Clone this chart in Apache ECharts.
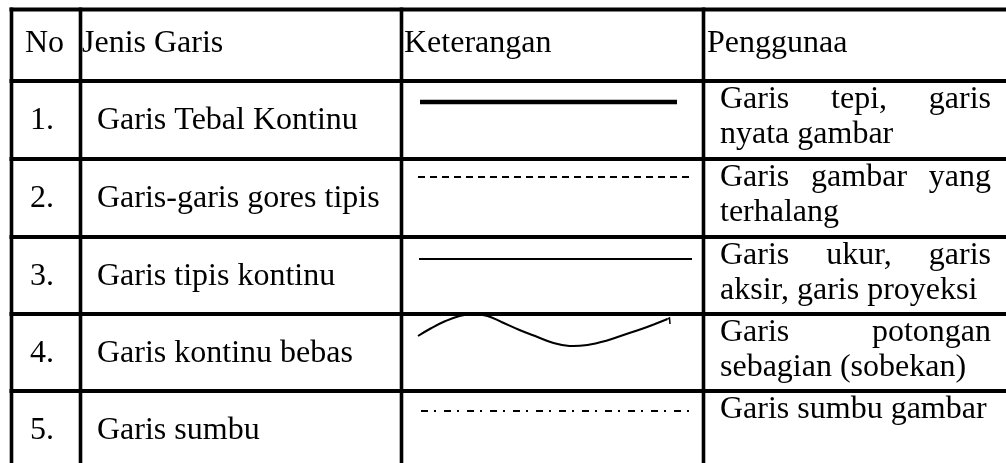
<!DOCTYPE html>
<html><head><meta charset="utf-8">
<script src="https://cdn.jsdelivr.net/npm/echarts@6/dist/echarts.min.js"></script>
<style>html,body{margin:0;padding:0;background:#fff}#c{width:1006px;height:463px}</style>
</head><body><div id="c"></div>
<script>
// ---- content ----
const headers = ['No', 'Jenis Garis', 'Keterangan', 'Penggunaa'];
const numbers = ['1.', '2.', '3.', '4.', '5.'];
const lineNames = ['Garis Tebal Kontinu', 'Garis-garis gores tipis', 'Garis tipis kontinu', 'Garis kontinu bebas', 'Garis sumbu'];
const lineKinds = ['thick', 'dashed', 'thin', 'free', 'dashdot'];
const usageLines = [
  ['Garis tepi, garis', 'nyata gambar'],
  ['Garis gambar yang', 'terhalang'],
  ['Garis ukur, garis', 'aksir, garis proyeksi'],
  ['Garis potongan', 'sebagian (sobekan)'],
  ['Garis sumbu gambar']
];
// free-hand sample: [offset from cell left, offset from row top]
const freeLineShape = [[16.5,22],[30,14],[44,7],[58,2],[72,0],[86,2],[100,8],[118,16],[136,23],[152,29],[168,32],[186,31],[204,27],[222,21],[240,15],[256,9],[266,5]];
const freeLineHook = [[266,5],[268,4],[268.5,10]];

// ---- layout (table units = px of the page) ----
const W = 1006, H = 463;
const colEdges = [11.5, 80.5, 401.5, 703.5, 1012];
const rowEdges = [9.5, 81, 159, 237, 314, 391, 470];
const FONT_SIZE = 32;
const FONT_FAMILY = '"Liberation Serif", "Times New Roman", serif';
const FONT = FONT_SIZE + 'px ' + FONT_FAMILY;
const MID = 11; // baseline -> middle offset

const mctx = document.createElement('canvas').getContext('2d');
mctx.font = FONT;
const tw = s => mctx.measureText(s).width;

const chart = echarts.init(document.getElementById('c'), null, {renderer: 'canvas'});

function txt(api, s, x, baseline, align) {
  const p = api.coord([x, baseline - MID]);
  return {type: 'text', style: {text: s, x: p[0], y: p[1], font: FONT, fill: '#000',
    textAlign: align || 'left', textVerticalAlign: 'middle', align: align || 'left', verticalAlign: 'middle'}};
}
function seg(api, x1, y1, x2, y2, lw, dash) {
  const a = api.coord([x1, y1]), b = api.coord([x2, y2]);
  return {type: 'line', shape: {x1: a[0], y1: a[1], x2: b[0], y2: b[1]},
    style: {stroke: '#000', lineWidth: lw, lineDash: dash || null, lineCap: 'butt'}};
}

function renderRow(params, api) {
  const r = api.value(0);
  const children = [];
  if (r === 0) {
    const bl = rowEdges[0] + 45;
    children.push(txt(api, headers[0], 25, bl));
    children.push(txt(api, headers[1], 82, bl));
    children.push(txt(api, headers[2], 404, bl));
    children.push(txt(api, headers[3], 707, bl));
    return {type: 'group', children};
  }
  const i = r - 1;
  const top = rowEdges[r];
  children.push(txt(api, numbers[i], 30, top + 51));
  children.push(txt(api, lineNames[i], 97, top + 51));
  // usage column, justified
  const left = 720, right = 991;
  usageLines[i].forEach((line, k) => {
    const bl = top + 30 + k * 35;
    const last = k === usageLines[i].length - 1;
    const words = line.split(' ');
    if (last || words.length < 2) {
      children.push(txt(api, line, left, bl));
    } else {
      const total = words.reduce((s, w) => s + tw(w), 0);
      const gap = (right - left - total) / (words.length - 1);
      let x = left;
      words.forEach(w => { children.push(txt(api, w, x, bl)); x += tw(w) + gap; });
    }
  });
  // line sample
  const cx = colEdges[2];
  const kind = lineKinds[i];
  if (kind === 'thick') children.push(seg(api, 420, top + 21, 677, top + 21, 4.5));
  else if (kind === 'dashed') children.push(seg(api, 418, top + 18, 692, top + 18, 2, [7, 5]));
  else if (kind === 'thin') children.push(seg(api, 419, top + 22, 692, top + 22, 2));
  else if (kind === 'dashdot') children.push(seg(api, 421, top + 20, 692, top + 20, 2, [7, 6, 2, 8]));
  else if (kind === 'free') {
    const pts = freeLineShape.map(p => api.coord([cx + p[0], top + p[1]]));
    children.push({type: 'polyline', shape: {points: pts, smooth: 0.4},
      style: {stroke: '#000', lineWidth: 2, fill: null}});
    const hk = freeLineHook.map(p => api.coord([cx + p[0], top + p[1]]));
    children.push({type: 'polyline', shape: {points: hk}, style: {stroke: '#000', lineWidth: 1.5, fill: null}});
  }
  return {type: 'group', children};
}

function renderBorders(params, api) {
  const children = [];
  const yTop = rowEdges[0], yBot = rowEdges[rowEdges.length - 1];
  for (let k = 0; k < rowEdges.length - 1; k++) {
    children.push(seg(api, colEdges[0] - 2, rowEdges[k], colEdges[colEdges.length - 1], rowEdges[k], 4));
  }
  for (let k = 0; k < colEdges.length - 1; k++) {
    children.push(seg(api, colEdges[k], yTop - 2, colEdges[k], yBot, 3.6));
  }
  return {type: 'group', children};
}

chart.setOption({
  animation: false,
  backgroundColor: '#fff',
  grid: {left: 0, right: 0, top: 0, bottom: 0},
  xAxis: {type: 'value', min: 0, max: W, show: false},
  yAxis: {type: 'value', min: 0, max: H, inverse: true, show: false},
  series: [
    {type: 'custom', renderItem: renderRow, clip: false, data: [0, 1, 2, 3, 4, 5].map(v => [v, 0]), encode: {x: 1, y: 1}},
    {type: 'custom', renderItem: renderBorders, clip: false, z: 5, data: [[0, 0]], encode: {x: 1, y: 1}}
  ]
});
</script></body></html>
